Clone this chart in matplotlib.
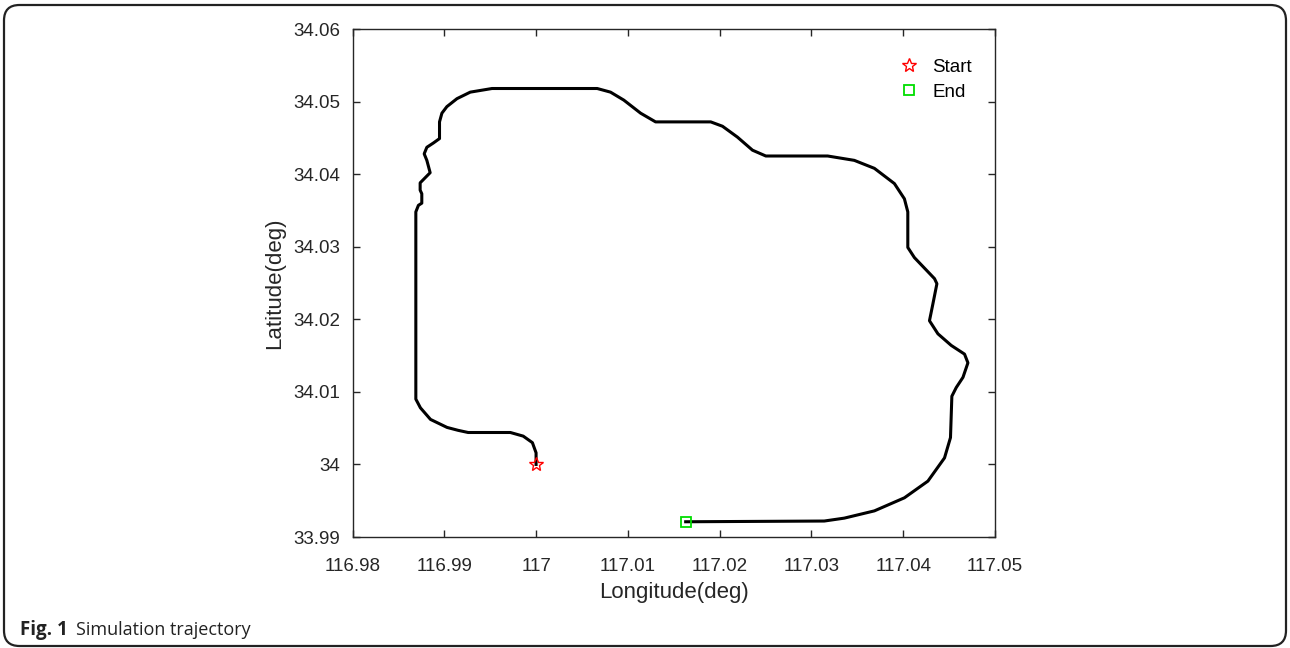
import numpy as np
import matplotlib
matplotlib.use('Agg')
import matplotlib.pyplot as plt
from matplotlib.patches import FancyBboxPatch

# trajectory (deg)
lon = [117.0, 117.0, 116.9996, 116.9986, 116.9972, 116.9926, 116.9915, 116.9903,
       116.9885, 116.9874, 116.9869, 116.9869, 116.98718, 116.98755, 116.98755,
       116.98737, 116.98737, 116.98846, 116.9881, 116.98781, 116.9881, 116.98882,
       116.98948, 116.98948, 116.98974, 116.99028, 116.99138, 116.99283, 116.9952,
       117.00666, 117.00811, 117.00956, 117.01139, 117.01302, 117.01903, 117.02031,
       117.02194, 117.02358, 117.02503, 117.03177, 117.03467, 117.03686, 117.03904,
       117.04013, 117.0405, 117.0405, 117.04122, 117.04341, 117.04367, 117.04323,
       117.04286, 117.04378, 117.04523, 117.04668, 117.04705, 117.04651, 117.04578,
       117.0453, 117.04515, 117.0445, 117.04269, 117.04013, 117.03686, 117.03358,
       117.0314, 117.0163]
lat = [34.0, 34.0016, 34.0030, 34.0039, 34.0044, 34.0044, 34.0047, 34.0051,
       34.0062, 34.0078, 34.0090, 34.0348, 34.0357, 34.0360, 34.0373,
       34.0378, 34.0388, 34.0402, 34.0419, 34.0428, 34.0437, 34.0443,
       34.0449, 34.0472, 34.0484, 34.0493, 34.0504, 34.0513, 34.0518,
       34.0518, 34.0513, 34.0502, 34.0484, 34.0472, 34.0472, 34.0466,
       34.0451, 34.0433, 34.0425, 34.0425, 34.0419, 34.0408, 34.0387,
       34.0366, 34.0348, 34.0299, 34.0285, 34.0256, 34.0249, 34.0221,
       34.0198, 34.0180, 34.0164, 34.0152, 34.0140, 34.0120, 34.0106,
       34.0094, 34.0037, 34.0009, 33.9977, 33.9954, 33.9936, 33.9926,
       33.9922, 33.9921]

xticks = [116.98, 116.99, 117.0, 117.01, 117.02, 117.03, 117.04, 117.05]
xlabels = ['116.98', '116.99', '117', '117.01', '117.02', '117.03', '117.04', '117.05']
yticks = [33.99, 34.0, 34.01, 34.02, 34.03, 34.04, 34.05, 34.06]
ylabels = ['33.99', '34', '34.01', '34.02', '34.03', '34.04', '34.05', '34.06']

plt.rcParams['font.family'] = ['Liberation Sans', 'DejaVu Sans']
fig = plt.figure(figsize=(12.9, 6.48), dpi=100)

# journal frame
frame = FancyBboxPatch((4 / 1290, 2 / 648), 1282 / 1290, 641 / 648,
                       boxstyle='round,pad=0,rounding_size=0.012',
                       transform=fig.transFigure, fill=False, ec='#222222', lw=1.6,
                       mutation_aspect=1290 / 648)
fig.patches.append(frame)

ax = fig.add_axes([352.5 / 1290, 111 / 648, 642.5 / 1290, 508 / 648])
ax.plot(lon, lat, color='black', lw=2.2)
ax.plot(lon[0], lat[0], marker='*', ms=10, mfc='none', mec='red', mew=1.0,
        ls='none', label='Start')
ax.plot(lon[-1], lat[-1], marker='s', ms=7, mfc='none', mec='#00dd00', mew=1.3,
        ls='none', label='End')

ax.set_xlim(116.98, 117.05)
ax.set_ylim(33.99, 34.06)
ax.set_xticks(xticks)
ax.set_xticklabels(xlabels)
ax.set_yticks(yticks)
ax.set_yticklabels(ylabels)
ax.tick_params(direction='in', top=True, right=True, labelsize=13.5,
               colors='#262626', length=5, width=1)
ax.tick_params(axis='x', pad=15)
ax.tick_params(axis='y', pad=9)
for s in ax.spines.values():
    s.set_color('#262626')
    s.set_linewidth(1)
ax.set_xlabel('Longitude(deg)', fontsize=16, color='#262626', labelpad=5)
ax.set_ylabel('Latitude(deg)', fontsize=16, color='#262626', labelpad=6)

ax.legend(loc='upper right', bbox_to_anchor=(0.99, 0.975), frameon=False,
          fontsize=13.5, handletextpad=0.75, borderaxespad=0.5,
          labelspacing=0.42, handlelength=1.0)

fig.text(20 / 1290, 1 - 630 / 648, 'Fig. 1', fontsize=13.5, fontweight='bold',
         family=['Open Sans', 'DejaVu Sans'], va='center', color='#222222')
fig.text(76 / 1290, 1 - 630 / 648, 'Simulation trajectory', fontsize=13,
         family=['Open Sans', 'DejaVu Sans'], va='center', color='#222222')

fig.savefig('out.png', dpi=100)
